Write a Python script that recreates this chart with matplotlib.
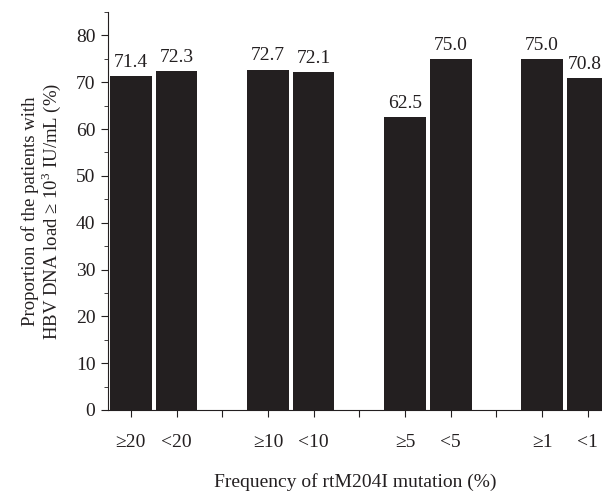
import matplotlib
matplotlib.use("Agg")
import matplotlib.pyplot as plt
from matplotlib.ticker import MultipleLocator

categories = ["≥20", "<20", "≥10", "<10", "≥5", "<5", "≥1", "<1"]
values = [71.4, 72.3, 72.7, 72.1, 62.5, 75.0, 75.0, 70.8]
positions = [0, 1, 3, 4, 6, 7, 9, 10]

plt.rcParams['font.family'] = ['Liberation Serif', 'DejaVu Serif']
plt.rcParams['mathtext.fontset'] = 'custom'
plt.rcParams['mathtext.rm'] = 'Liberation Serif'
fig = plt.figure(figsize=(6.02, 4.93), dpi=100)
ax = fig.add_axes([108/602, 83/493, 1 - 108/602, (410-12)/493])

col = "#231f20"
xmax = 10.31
ax.bar(positions, values, width=0.91, color=col)
for p, v in zip(positions, values):
    if p + 0.4 > xmax:
        ax.text(xmax, v + 1.1, f"{v:.1f}", ha="right", va="bottom", fontsize=14, color=col)
    else:
        ax.text(p, v + 1.1, f"{v:.1f}", ha="center", va="bottom", fontsize=14, color=col)

ax.set_xlim(-0.5, xmax)
ax.set_ylim(0, 85)
ax.set_xticks(range(11))
labels = [""] * 11
for p, c in zip(positions, categories):
    labels[p] = c
ax.set_xticklabels(labels, fontsize=14, color=col)
ax.yaxis.set_major_locator(MultipleLocator(10))
ax.yaxis.set_minor_locator(MultipleLocator(5))
ax.tick_params(axis="y", labelsize=14, colors=col, direction="out", length=5, pad=4)
ax.tick_params(axis="y", which="minor", length=3, colors=col)
ax.tick_params(axis="x", direction="out", length=5, pad=12, colors=col)
for s in ["top", "right"]:
    ax.spines[s].set_visible(False)
for s in ["left", "bottom"]:
    ax.spines[s].set_color(col)
ax.set_ylabel("Proportion of the patients with\nHBV DNA load ≥ 10$^{3}$ IU/mL (%)", fontsize=13.5, color=col, labelpad=9, linespacing=1.05)
ax.set_xlabel("Frequency of rtM204I mutation (%)", fontsize=14, color=col, labelpad=16)

fig.savefig("out.png", dpi=100)
